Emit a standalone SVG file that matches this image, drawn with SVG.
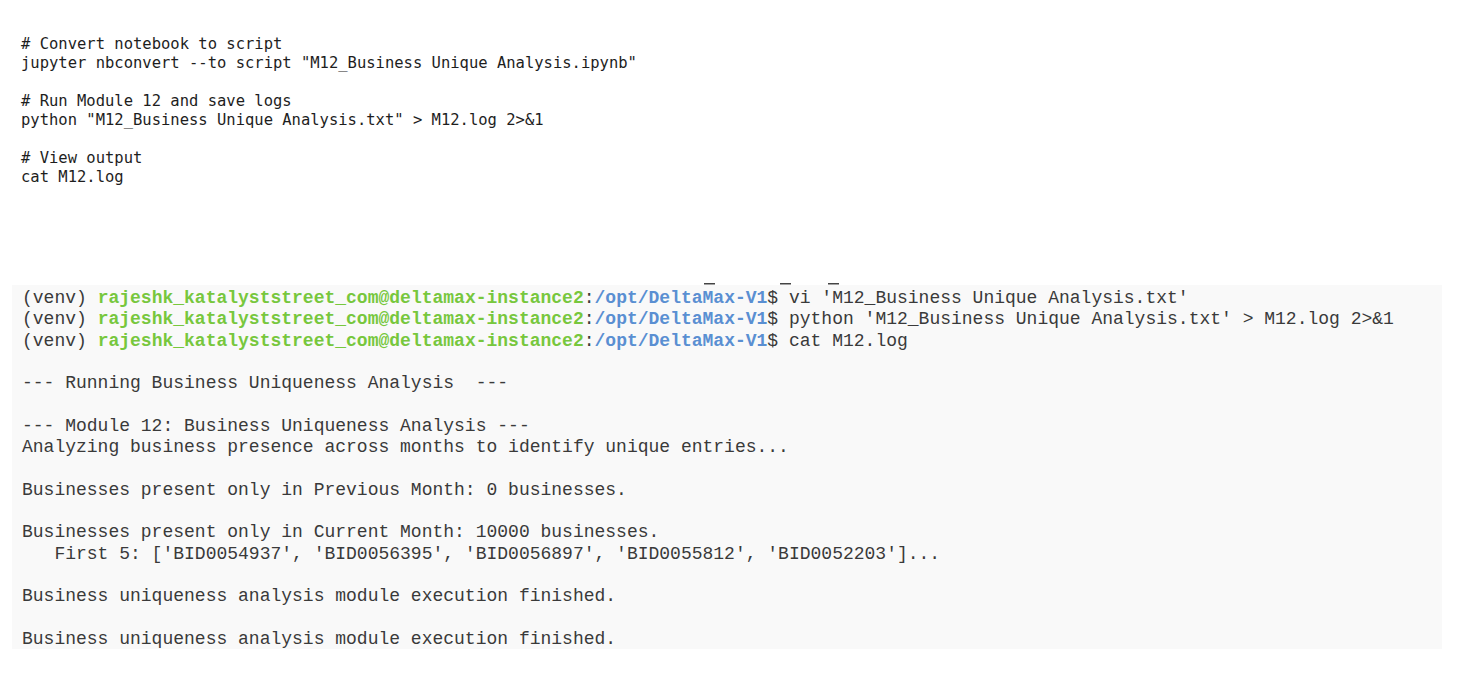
<svg xmlns="http://www.w3.org/2000/svg" width="1458" height="673" viewBox="0 0 1458 673">
<style>
.cmd{font-family:"DejaVu Sans Mono","Liberation Mono",monospace;font-size:15.5px;fill:#1e1e1e;white-space:pre}
.term{font-family:"Liberation Mono","Courier New",monospace;font-size:18px;fill:#3a3a3a;white-space:pre}
.u{fill:#77c73d;font-weight:bold}
.p{fill:#5a8fd2;font-weight:bold}
</style>
<rect width="1458" height="673" fill="#ffffff"/>
<g id="commands">
<text class="cmd" x="21" y="49"># Convert notebook to script</text>
<text class="cmd" x="21" y="68">jupyter nbconvert --to script "M12_Business Unique Analysis.ipynb"</text>
<text class="cmd" x="21" y="106"># Run Module 12 and save logs</text>
<text class="cmd" x="21" y="125">python "M12_Business Unique Analysis.txt" &gt; M12.log 2&gt;&amp;1</text>
<text class="cmd" x="21" y="163"># View output</text>
<text class="cmd" x="21" y="182">cat M12.log</text>
</g>
<g id="terminal">
<rect x="12" y="285" width="1430" height="364" fill="#f9f9f9"/>
<g fill="#444">
<rect x="704" y="283" width="11" height="1.5"/>
<rect x="780" y="283" width="11" height="1.5"/>
<rect x="828" y="283" width="11" height="1.5"/>
</g>
<text class="term" x="22" y="303">(venv) <tspan class="u">rajeshk_katalyststreet_com@deltamax-instance2</tspan>:<tspan class="p">/opt/DeltaMax-V1</tspan>$ vi 'M12_Business Unique Analysis.txt'</text>
<text class="term" x="22" y="324.3">(venv) <tspan class="u">rajeshk_katalyststreet_com@deltamax-instance2</tspan>:<tspan class="p">/opt/DeltaMax-V1</tspan>$ python 'M12_Business Unique Analysis.txt' &gt; M12.log 2&gt;&amp;1</text>
<text class="term" x="22" y="345.6">(venv) <tspan class="u">rajeshk_katalyststreet_com@deltamax-instance2</tspan>:<tspan class="p">/opt/DeltaMax-V1</tspan>$ cat M12.log</text>
<text class="term" x="22" y="388.2">--- Running Business Uniqueness Analysis  ---</text>
<text class="term" x="22" y="430.8">--- Module 12: Business Uniqueness Analysis ---</text>
<text class="term" x="22" y="452.1">Analyzing business presence across months to identify unique entries...</text>
<text class="term" x="22" y="494.7">Businesses present only in Previous Month: 0 businesses.</text>
<text class="term" x="22" y="537.3">Businesses present only in Current Month: 10000 businesses.</text>
<text class="term" x="22" y="558.6">   First 5: ['BID0054937', 'BID0056395', 'BID0056897', 'BID0055812', 'BID0052203']...</text>
<text class="term" x="22" y="601.2">Business uniqueness analysis module execution finished.</text>
<text class="term" x="22" y="643.8">Business uniqueness analysis module execution finished.</text>
</g>
</svg>
